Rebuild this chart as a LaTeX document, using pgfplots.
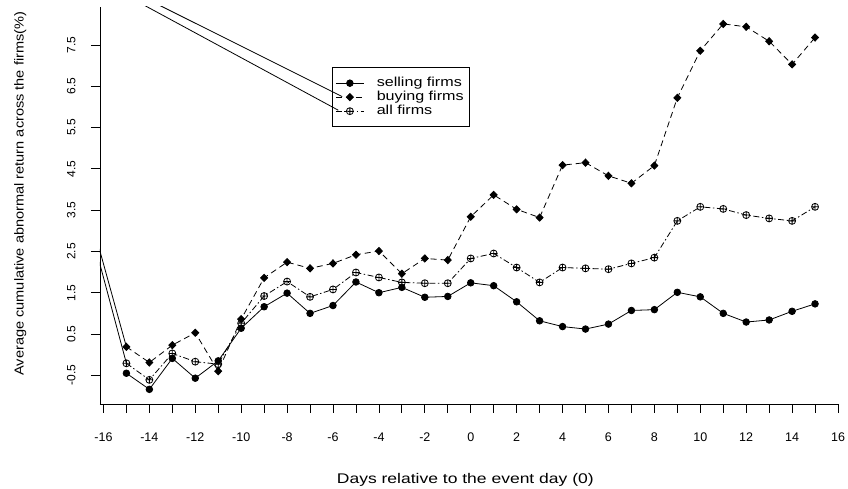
\documentclass[border=0pt]{standalone}
\usepackage{pgfplots}
\pgfplotsset{compat=1.18}
\usepackage{fontspec}
\setmainfont{Liberation Sans}
\usepackage{graphicx}

\pgfplotstableread{
x y
-15 -0.45
-14 -0.84
-13 -0.09
-12 -0.57
-11 -0.15
-10 0.64
-9 1.16
-8 1.49
-7 1.00
-6 1.19
-5 1.76
-4 1.50
-3 1.63
-2 1.39
-1 1.41
0 1.74
1 1.67
2 1.28
3 0.82
4 0.68
5 0.62
6 0.74
7 1.07
8 1.09
9 1.51
10 1.40
11 1.00
12 0.79
13 0.84
14 1.05
15 1.23
}\selling

\pgfplotstableread{
x y
-15 0.19
-14 -0.19
-13 0.23
-12 0.53
-11 -0.40
-10 0.86
-9 1.86
-8 2.24
-7 2.09
-6 2.21
-5 2.42
-4 2.51
-3 1.96
-2 2.33
-1 2.29
0 3.34
1 3.87
2 3.52
3 3.32
4 4.59
5 4.65
6 4.33
7 4.15
8 4.58
9 6.22
10 7.36
11 8.01
12 7.94
13 7.59
14 7.03
15 7.68
}\buying

\pgfplotstableread{
x y
-15 -0.21
-14 -0.61
-13 0.03
-12 -0.17
-11 -0.23
-10 0.76
-9 1.42
-8 1.77
-7 1.40
-6 1.58
-5 1.99
-4 1.87
-3 1.75
-2 1.73
-1 1.73
0 2.33
1 2.45
2 2.11
3 1.75
4 2.11
5 2.09
6 2.07
7 2.21
8 2.35
9 3.24
10 3.58
11 3.53
12 3.38
13 3.30
14 3.24
15 3.58
}\allfirms

\begin{document}
\begin{tikzpicture}
\begin{axis}[
  scale only axis, width=738pt, height=397pt,
  xmin=-16.15, xmax=16, ymin=-1.195, ymax=8.42,
  axis lines=left,
  axis line style={-, line width=0.8pt, black},
  tick style={black, line width=0.8pt},
  tick align=outside,
  major tick length=9pt, minor tick length=9pt,
  xtick={-16,-14,...,16},
  minor xtick={-15,-13,...,15},
  ytick={-0.5,0.5,1.5,2.5,3.5,4.5,5.5,6.5,7.5},
  yticklabels={-0.5,0.5,1.5,2.5,3.5,4.5,5.5,6.5,7.5},
  /pgf/number format/assume math mode=true,
  xticklabel style={font=\fontsize{12.5}{14}\selectfont, yshift=-16pt},
  yticklabel style={font=\fontsize{12}{14}\selectfont, rotate=90, anchor=south, yshift=12pt},
  xlabel={\scalebox{1.25}[1]{Days relative to the event day (0)}},
  xlabel style={font=\fontsize{14}{16}\selectfont, at={(axis description cs:0.495,-0.19)}, anchor=center},
  ylabel={\scalebox{1.12}[1]{Average cumulative abnormal return across the firms(\%)}},
  ylabel style={font=\fontsize{13}{15}\selectfont, at={(axis description cs:-0.108,0.53)}, anchor=center, rotate=0},
  legend cell align=left,
  legend style={at={(axis cs:-6.04,6.96)}, anchor=north west, draw=black, line width=0.8pt, fill=none,
    inner xsep=3pt, inner ysep=9pt, row sep=1pt,
    font=\fontsize{13}{15}\selectfont,
    nodes={inner sep=0.5pt, text height=9.5pt, text depth=2.5pt}},
  legend image code/.code={\draw[mark repeat=2,mark phase=2,#1] plot coordinates {(0pt,0pt)(14pt,0pt)(28pt,0pt)};},
]
\addplot[black, line width=0.8pt, mark=*, mark size=3.3pt] table[x=x,y=y]{\selling};
\addlegendentry{\hspace*{12pt}\scalebox{1.24}[1]{selling firms}\hspace*{4pt}}
\addplot[black, line width=0.8pt, dash pattern=on 6pt off 4pt, mark=diamond*, mark size=3.6pt, mark options={solid, xscale=1.3}] table[x=x,y=y]{\buying};
\addlegendentry{\hspace*{12pt}\scalebox{1.24}[1]{buying firms}}
\addplot[black, line width=0.8pt, dash pattern=on 6pt off 2.5pt on 1.5pt off 2.5pt, mark=oplus, mark size=3.5pt, mark options={solid}] table[x=x,y=y]{\allfirms};
\addlegendentry{\hspace*{12pt}\scalebox{1.24}[1]{all firms}}
% stray connecting segments present in the original figure
\addplot[black, line width=0.8pt, forget plot] coordinates {(-5.6,6.25) (-20,10.25) (-15,0.19)};
\addplot[black, line width=0.8pt, forget plot] coordinates {(-5.77,5.92) (-20,10.2) (-15,-0.21)};
\end{axis}
\pgfresetboundingbox
\path[use as bounding box] (current axis.south west) ++(-100pt,-85pt) rectangle ++(848pt,489pt);
\end{tikzpicture}
\end{document}
